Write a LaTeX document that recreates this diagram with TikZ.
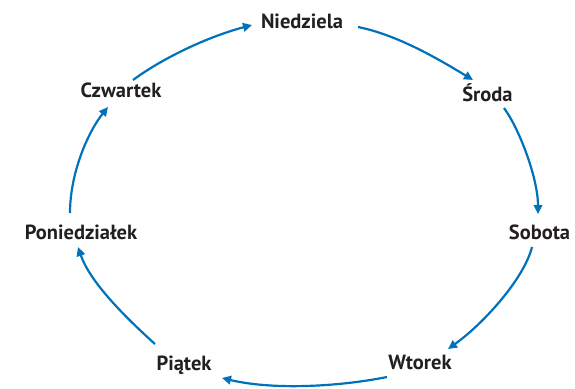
\documentclass[tikz,border=0pt]{standalone}
\usepackage{fontspec}
\setmainfont{PT Sans}
\usetikzlibrary{arrows.meta}
\definecolor{arrblue}{RGB}{0,114,188}
\definecolor{txt}{RGB}{35,31,32}
\begin{document}
\begin{tikzpicture}[x=1pt,y=-1pt,
  day/.style={anchor=base,inner sep=0pt,text=txt,font=\fontsize{20.5}{22}\selectfont\bfseries},
  link/.style={draw=arrblue,line width=2.2pt,-{Triangle[length=9pt,width=8.5pt]}}]
\useasboundingbox (0,0) rectangle (575,388);
\node[day] (nie) at (302,28) {Niedziela};
\node[day] (sro) at (487.5,101) {Środa};
\node[day] (sob) at (539.5,239) {Sobota};
\node[day] (wto) at (420,369) {Wtorek};
\node[day] (pia) at (184,370) {Piątek};
\node[day] (pon) at (81,239) {Poniedziałek};
\node[day] (czw) at (121,97) {Czwartek};

\draw[link] ([shift={(56,-1)}]nie.base) .. controls +(40,8) and +(-33,-20) .. ([shift={(-14.5,-21)}]sro.base);
\draw[link] ([shift={(16.5,7)}]sro.base) .. controls +(16,22) and +(0,-35) .. ([shift={(-1.5,-25)}]sob.base);
\draw[link] ([shift={(-7.5,8)}]sob.base) .. controls +(-8,32) and +(35,-25) .. ([shift={(28,-20)}]wto.base);
\draw[link] ([shift={(-33,8)}]wto.base) .. controls +(-50,10) and +(50,12) .. ([shift={(38,8)}]pia.base);
\draw[link] ([shift={(-29,-26)}]pia.base) .. controls +(-30,-27) and +(12,35) .. ([shift={(-3,8)}]pon.base);
\draw[link] ([shift={(-11,-26)}]pon.base) .. controls +(0,-40) and +(-20,25) .. ([shift={(-13,10)}]czw.base);
\draw[link] ([shift={(12,-17)}]czw.base) .. controls +(30,-22) and +(-45,12) .. ([shift={(-50,-3)}]nie.base);
\end{tikzpicture}
\end{document}
